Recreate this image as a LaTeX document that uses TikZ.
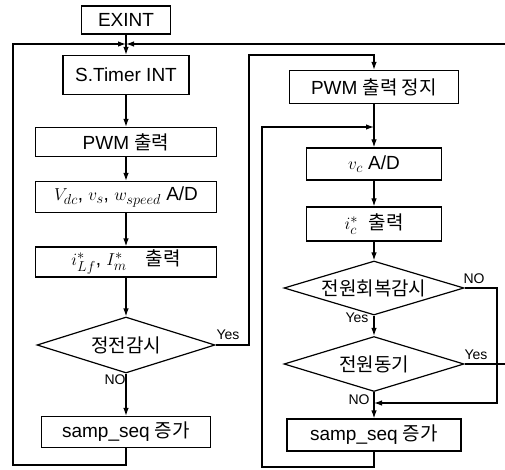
\documentclass[tikz,border=0pt]{standalone}
\usepackage{fontspec}
\setmainfont{Liberation Sans}
\newfontfamily\kr{Noto Sans CJK KR}
\usetikzlibrary{shapes.geometric,arrows.meta}

\begin{document}
\begin{tikzpicture}[x=1pt,y=-1pt,line width=1.2pt,>={Latex[length=8pt,width=5.5pt]},
	box/.style={draw,inner sep=0pt,font=\fontsize{19}{22}\selectfont},
	decision/.style={draw,diamond,aspect=3.3,inner sep=0pt,font=\fontsize{19}{22}\selectfont},
	tag/.style={inner sep=0pt,font=\fontsize{14}{16}\selectfont}]
		\useasboundingbox (0,0) rectangle (505,470);
		% main loop (left)
		\node[box,minimum width=89pt,minimum height=28pt] (exint) at (126,20) {EXINT};
		\node[box,minimum width=126pt,minimum height=39pt] (timer) at (126,75) {S.Timer INT};
		\node[box,minimum width=181pt,minimum height=29pt] (pwm) at (126,142) {PWM {\kr 출력}};
		\node[box,minimum width=181pt,minimum height=31pt] (adc) at (126,197) {$V_{dc}$, $v_s$, $w_{speed}$ A/D};
		\node[box,minimum width=181pt,minimum height=30pt] (iref) at (126,262) {$i^*_{Lf}$, $I^*_m$\quad{\kr 출력}};
		\node[decision,minimum width=178pt,minimum height=56pt] (outage) at (126,345) {\kr 정전감시};
		\node[box,minimum width=169pt,minimum height=31pt] (seqL) at (126,432) {samp\_seq {\kr 증가}};
		% outage loop (right)
		\node[box,minimum width=169pt,minimum height=33pt] (stop) at (374,87) {PWM {\kr 출력 정지}};
		\node[box,minimum width=135pt,minimum height=32pt] (vc) at (374,164) {$v_c$\ A/D};
		\node[box,minimum width=135pt,minimum height=34pt] (ic) at (374,224) {$i^*_c$\ \ {\kr 출력}};
		\node[decision,minimum width=180pt,minimum height=54pt] (recov) at (374,288) {\kr 전원회복감시};
		\node[decision,minimum width=180pt,minimum height=55pt] (sync) at (374,364) {\kr 전원동기};
		\node[box,minimum width=174pt,minimum height=32pt] (seqR) at (374,435) {samp\_seq {\kr 증가}};
		\coordinate (join) at (126,44);
		\coordinate (lx) at (13,465);
		\coordinate (tr) at (505,44);
		\coordinate (yesup) at (249,55);
		\coordinate (merge1) at (374,127);
		\coordinate (rx) at (262,467);
		\coordinate (nox) at (497,403);
		\coordinate (merge2) at (374,403);
		\coordinate (yesR) at (505,364);
		\draw[->] (exint) -- (timer);
		\draw[->] (seqL.south) |- (lx) |- (join);
		\draw[->] (tr) -- (join);
		\draw[->] (timer) -- (pwm);
		\draw[->] (pwm) -- (adc);
		\draw[->] (adc) -- (iref);
		\draw[->] (iref) -- (outage);
		\draw[->] (outage) -- (seqL);
		\draw[->] (outage.east) -| (yesup) -| (stop.north);
		\draw[->] (stop) -- (vc);
		\draw[->] (seqR.south) |- (rx) |- (merge1);
		\draw[->] (vc) -- (ic);
		\draw[->] (ic) -- (recov);
		\draw[->] (recov) -- (sync);
		\draw[->] (sync) -- (seqR);
		\draw[->] (recov.east) -| (nox) -- (merge2);
		\draw (sync.east) -- (yesR);
		\node[tag] (yesA) at (228,335) {Yes};
		\node[tag] (noA) at (115,380) {NO};
		\node[tag] (noB) at (474,279) {NO};
		\node[tag] (yesB) at (357,318) {Yes};
		\node[tag] (noC) at (359,400) {NO};
		\node[tag] (yesC) at (476,355) {Yes};
\end{tikzpicture}
\end{document}
